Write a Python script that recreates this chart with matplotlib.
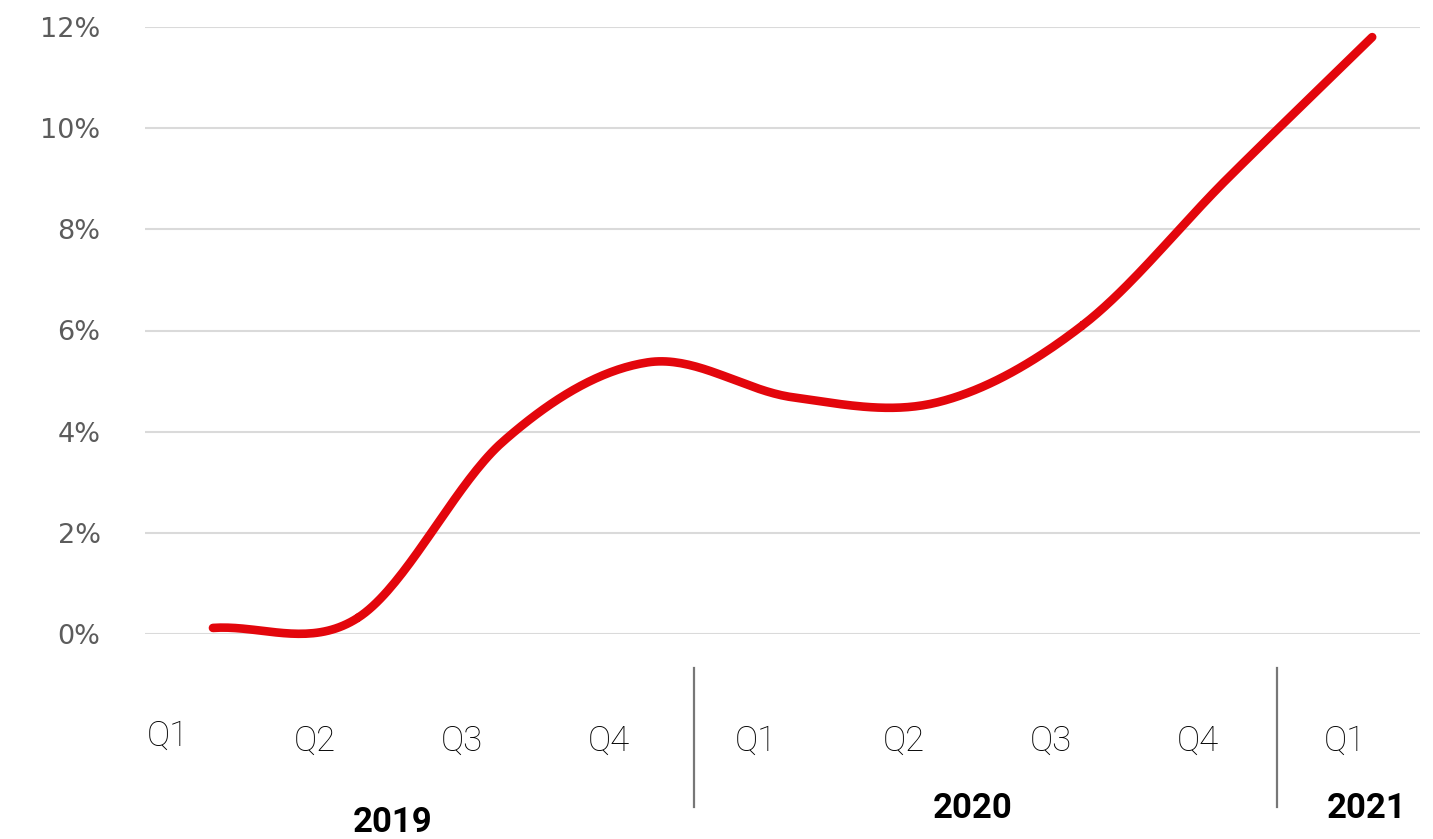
import numpy as np
import matplotlib
matplotlib.use("Agg")
import matplotlib.pyplot as plt
import matplotlib.transforms as mtransforms
from matplotlib.lines import Line2D

# quarterly growth, %
quarters = ["Q1", "Q2", "Q3", "Q4", "Q1", "Q2", "Q3", "Q4", "Q1"]
growth = [0.12, 0.32, 3.8, 5.37, 4.68, 4.58, 6.1, 9.0, 11.8]
years = ["2019", "2020", "2021"]
yticks = [0, 2, 4, 6, 8, 10, 12]


def smooth(xs, ys, n=40):
    # catmull-rom through every point, like a spreadsheet "smoothed line"
    xs = np.asarray(xs, float)
    ys = np.asarray(ys, float)
    px = np.concatenate([[2 * xs[0] - xs[1]], xs, [2 * xs[-1] - xs[-2]]])
    py = np.concatenate([[2 * ys[0] - ys[1]], ys, [2 * ys[-1] - ys[-2]]])
    outx, outy = [], []
    t = np.linspace(0, 1, n)
    for i in range(1, len(px) - 2):
        for p, out in ((px, outx), (py, outy)):
            p0, p1, p2, p3 = p[i - 1], p[i], p[i + 1], p[i + 2]
            out.extend(0.5 * (2 * p1 + (-p0 + p2) * t
                              + (2 * p0 - 5 * p1 + 4 * p2 - p3) * t ** 2
                              + (-p0 + 3 * p1 - 3 * p2 + p3) * t ** 3))
    return np.array(outx), np.array(outy)


W, H = 1433, 839
fig = plt.figure(figsize=(W / 100, H / 100), dpi=100)
ax = fig.add_axes([145 / W, 1 - 634 / H, (1420 - 145) / W, (634 - 27) / H])

x = np.arange(len(growth))
sx, sy = smooth(x, growth)
ax.plot(sx, sy, color="#e3060c", lw=6.2, solid_capstyle="round", clip_on=False, zorder=3)

ax.set_xlim(-0.469, 8.33)
ax.set_ylim(0, 12)
ax.set_yticks(yticks)
ax.set_yticklabels([f"{v}%" for v in yticks], fontsize=19.5, color="#5c5c5c",
                   family="DejaVu Sans")
ax.tick_params(axis="y", length=0, pad=32)
ax.set_xticks([])
ax.grid(axis="y", color="#dadada", lw=1.5)
for s in ax.spines.values():
    s.set_visible(False)

tr = mtransforms.blended_transform_factory(ax.transData, fig.transFigure)

# quarter labels under the plot
qx = np.arange(len(quarters)) * 1.015 - 0.31
for i, (q, xq) in enumerate(zip(quarters, qx)):
    py = 736 if i == 0 else 741
    ax.text(xq, 1 - py / H, q, transform=tr, ha="center", va="center",
            fontsize=25, family="Roboto", fontweight="light", color="#000000")

# year separators and labels
for xs_ in (3.32, 7.34):
    fig.add_artist(Line2D([xs_, xs_], [1 - 668 / H, 1 - 807 / H], transform=tr,
                          color="#777777", lw=1.6))
for yr, xy, py in zip(years, (1.24, 5.24, 7.96), (823, 809, 809)):
    ax.text(xy, 1 - py / H, yr, transform=tr, ha="center", va="center",
            fontsize=25, family="Roboto", fontweight="bold", color="#000000")

fig.savefig("out.png", dpi=100, facecolor="white")
